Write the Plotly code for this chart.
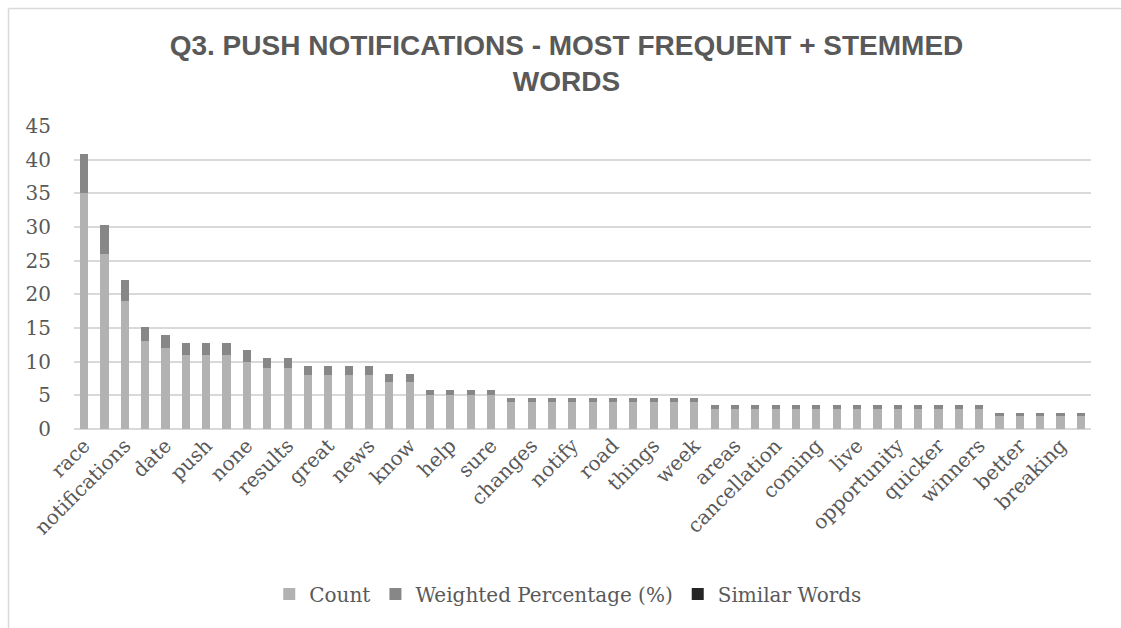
import plotly.graph_objects as go

# Top stemmed words; only every other word is printed on the axis
tick_words = ["race", "notifications", "date", "push", "none", "results", "great",
              "news", "know", "help", "sure", "changes", "notify", "road", "things",
              "week", "areas", "cancellation", "coming", "live", "opportunity",
              "quicker", "winners", "better", "breaking"]

counts = [35, 26, 19, 13, 12, 11, 11, 11, 10, 9, 9, 8, 8, 8, 8, 7, 7,
          5, 5, 5, 5,
          4, 4, 4, 4, 4, 4, 4, 4, 4, 4,
          3, 3, 3, 3, 3, 3, 3, 3, 3, 3, 3, 3, 3, 3,
          2, 2, 2, 2, 2]

weighted_pct = [5.80, 4.31, 3.15, 2.16, 1.99, 1.82, 1.82, 1.82, 1.66, 1.49, 1.49,
                1.33, 1.33, 1.33, 1.33, 1.16, 1.16,
                0.83, 0.83, 0.83, 0.83,
                0.66, 0.66, 0.66, 0.66, 0.66, 0.66, 0.66, 0.66, 0.66, 0.66,
                0.50, 0.50, 0.50, 0.50, 0.50, 0.50, 0.50, 0.50, 0.50, 0.50,
                0.50, 0.50, 0.50, 0.50,
                0.33, 0.33, 0.33, 0.33, 0.33]

similar_words = [0, 0, 0, 0, 0, 0, 0, 0, 0, 0, 0, 0, 0, 0, 0, 0, 0, 0, 0, 0, 0, 0, 0, 0, 0,
                 0, 0, 0, 0, 0, 0, 0, 0, 0, 0, 0, 0, 0, 0, 0, 0, 0, 0, 0, 0, 0, 0, 0, 0, 0]

positions = list(range(len(counts)))
tick_positions = positions[::2]

W, H = 1121, 628
ML, MR, MT, MB = 74, 30, 126, 199
plot_w = W - ML - MR
plot_h = H - MT - MB

TEXT = "#595959"
GRID = "#d9d9d9"
SERIF = "DejaVu Serif"

fig = go.Figure()
fig.add_trace(go.Bar(x=positions, y=counts, name="Count",
                     marker=dict(color="#b2b2b2", line=dict(width=0))))
fig.add_trace(go.Bar(x=positions, y=weighted_pct, name="Weighted Percentage (%)",
                     marker=dict(color="#878787", line=dict(width=0))))
fig.add_trace(go.Bar(x=positions, y=similar_words, name="Similar Words",
                     marker=dict(color="#262626", line=dict(width=0))))


def px_x(px):
    return (px - ML) / plot_w


def px_y(py):
    return (H - MB - py) / plot_h


# chart frame (top and left edges)
frame_x = px_x(8.5)
frame_y = px_y(8.5)
shapes = [
    dict(type="line", xref="paper", yref="paper", x0=frame_x, x1=px_x(W + 20),
         y0=frame_y, y1=frame_y, line=dict(color=GRID, width=1.5)),
    dict(type="line", xref="paper", yref="paper", x0=frame_x, x1=frame_x,
         y0=frame_y, y1=px_y(H + 20), line=dict(color=GRID, width=1.5)),
]

fig.update_layout(
    width=W, height=H,
    margin=dict(l=ML, r=MR, t=MT, b=MB),
    paper_bgcolor="white", plot_bgcolor="white",
    barmode="stack", bargap=0.6,
    title=dict(text="Q3. PUSH NOTIFICATIONS - MOST FREQUENT + STEMMED<br>WORDS",
               x=566.5 / W, xanchor="center", xref="container",
               y=1 - 55 / H, yanchor="middle", yref="container",
               font=dict(family="Liberation Sans", size=28, color=TEXT,
                         weight="bold")),
    font=dict(family=SERIF, size=20, color=TEXT),
    xaxis=dict(range=[-0.5, len(counts) - 0.5], tickmode="array",
               tickvals=tick_positions, ticktext=tick_words, tickangle=-45,
               showgrid=False, showline=False, zeroline=False, ticks="",
               tickfont=dict(family=SERIF, size=20, color=TEXT)),
    yaxis=dict(range=[0, 45], dtick=5, showgrid=True, gridcolor=GRID, gridwidth=1.5,
               zeroline=True, zerolinecolor=GRID, zerolinewidth=1.5,
               showline=False, ticks="outside", ticklen=18,
               tickcolor="rgba(0,0,0,0)",
               tickfont=dict(family=SERIF, size=20, color=TEXT)),
    legend=dict(orientation="h", x=0.486, xanchor="center",
                y=px_y(594), yanchor="middle",
                font=dict(family=SERIF, size=20, color=TEXT),
                itemwidth=30, traceorder="normal"),
    shapes=shapes,
    showlegend=True,
)

fig.write_html("out.html")
